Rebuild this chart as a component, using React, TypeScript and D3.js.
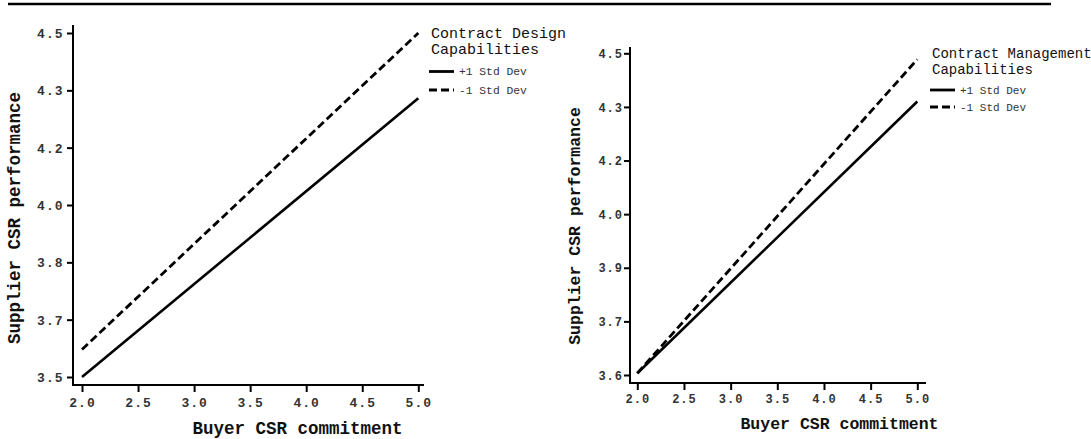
import React, { useEffect, useRef } from 'react';
import * as d3 from 'd3';

// buyer CSR commitment (x) at the two ends of each simple-slope line
const buyerCommitment = [2.0, 5.0];
const xTicks = [2.0, 2.5, 3.0, 3.5, 4.0, 4.5, 5.0];

// Contract Design Capabilities panel
const designHigh = [3.5, 4.31];
const designLow = [3.58, 4.5];
const designYTicks = [3.5, 3.6667, 3.8333, 4.0, 4.1667, 4.3333, 4.5];
const designYLabels = ['3.5', '3.7', '3.8', '4.0', '4.2', '4.3', '4.5'];

// Contract Management Capabilities panel
const mgmtHigh = [3.605, 4.365];
const mgmtLow = [3.605, 4.483];
const mgmtYTicks = [3.6, 3.75, 3.9, 4.05, 4.2, 4.35, 4.5];
const mgmtYLabels = ['3.6', '3.7', '3.9', '4.0', '4.2', '4.3', '4.5'];

const legendLabels = ['+1 Std Dev', '-1 Std Dev'];
const FONT = '"Courier New", Courier, "Nimbus Mono PS", "Liberation Mono", monospace';

const panels = [
  {
    title: ['Contract Design', 'Capabilities'],
    high: designHigh, low: designLow,
    yTicks: designYTicks, yLabels: designYLabels,
    yDomain: [3.5, 4.5], xRange: [82, 418.3], yRange: [377, 33],
    axisX: 73, axisTop: 25, axisBottom: 385, axisRight: 424,
    tickFs: 13, titleFs: 17.5, legendFs: 15,
    yLabelEnd: 63.5, xLabelY: 402,
    yTitle: [14, 218], xTitle: [297.5, 428],
    legend: [431, 33], legendRows: [38.5, 57], legendTextFs: 11.3,
  },
  {
    title: ['Contract Management', 'Capabilities'],
    high: mgmtHigh, low: mgmtLow,
    yTicks: mgmtYTicks, yLabels: mgmtYLabels,
    yDomain: [3.6, 4.5], xRange: [637.3, 917.3], yRange: [375, 53.3],
    axisX: 630, axisTop: 47, axisBottom: 383, axisRight: 926,
    tickFs: 12, titleFs: 16.5, legendFs: 14,
    yLabelEnd: 623, xLabelY: 398.5,
    yTitle: [574.5, 226], xTitle: [839.5, 423],
    legend: [932, 53], legendRows: [37, 54], legendTextFs: 11,
  },
];

export default function App() {
  const ref = useRef<SVGSVGElement>(null);

  useEffect(() => {
    document.body.style.margin = '0';
    const svg = d3.select(ref.current);
    svg.selectAll('*').remove();

    // rule across the top
    svg.append('line')
      .attr('x1', 8).attr('x2', 1051).attr('y1', 4).attr('y2', 4)
      .attr('stroke', '#000').attr('stroke-width', 2.5);

    panels.forEach(p => {
      const g = svg.append('g');
      const x = d3.scaleLinear().domain([2, 5]).range(p.xRange);
      const y = d3.scaleLinear().domain(p.yDomain).range(p.yRange);

      // axis lines
      g.append('path')
        .attr('d', `M${p.axisX},${p.axisTop}V${p.axisBottom}H${p.axisRight}`)
        .attr('fill', 'none').attr('stroke', '#000').attr('stroke-width', 2);

      const xAxis = g.append('g')
        .attr('transform', `translate(0,${p.axisBottom})`)
        .call(d3.axisBottom(x).tickValues(xTicks).tickSize(7).tickFormat(d3.format('.1f')));
      xAxis.select('.domain').remove();
      xAxis.selectAll('line').attr('stroke-width', 2);
      xAxis.selectAll('text')
        .attr('y', p.xLabelY - p.axisBottom).attr('dy', '0.35em')
        .attr('font-family', FONT).attr('font-weight', 'bold')
        .attr('font-size', p.tickFs).attr('letter-spacing', 1).attr('fill', '#333');

      const yAxis = g.append('g')
        .attr('transform', `translate(${p.axisX},0)`)
        .call(d3.axisLeft(y).tickValues(p.yTicks).tickSize(6)
          .tickFormat((_, i) => p.yLabels[i]));
      yAxis.select('.domain').remove();
      yAxis.selectAll('line').attr('stroke-width', 2);
      yAxis.selectAll('text')
        .attr('x', p.yLabelEnd - p.axisX).attr('dy', '0.35em')
        .attr('font-family', FONT).attr('font-weight', 'bold')
        .attr('font-size', p.tickFs).attr('letter-spacing', 1).attr('fill', '#333');

      // axis titles
      g.append('text')
        .attr('x', p.xTitle[0]).attr('y', p.xTitle[1]).attr('dy', '0.35em')
        .attr('text-anchor', 'middle').attr('font-family', FONT)
        .attr('font-weight', 'bold').attr('font-size', p.titleFs).attr('fill', '#111')
        .text('Buyer CSR commitment');
      g.append('text')
        .attr('transform', `translate(${p.yTitle[0]},${p.yTitle[1]}) rotate(-90)`)
        .attr('dy', '0.35em')
        .attr('text-anchor', 'middle').attr('font-family', FONT)
        .attr('font-weight', 'bold').attr('font-size', p.titleFs).attr('fill', '#111')
        .text('Supplier CSR performance');

      // simple slopes
      const line = d3.line<number>()
        .x((_, i) => x(buyerCommitment[i]))
        .y(d => y(d));
      g.append('path').attr('d', line(p.high))
        .attr('fill', 'none').attr('stroke', '#000').attr('stroke-width', 2.6);
      g.append('path').attr('d', line(p.low))
        .attr('fill', 'none').attr('stroke', '#000').attr('stroke-width', 2.8)
        .attr('stroke-dasharray', '8,4');

      // legend
      const [lx, ly] = p.legend;
      p.title.forEach((t, i) => {
        g.append('text')
          .attr('x', lx).attr('y', ly + i * 16).attr('dy', '0.35em')
          .attr('font-family', FONT).attr('font-size', p.legendFs).attr('fill', '#111')
          .text(t);
      });
      legendLabels.forEach((t, i) => {
        const yy = ly + p.legendRows[i];
        g.append('line')
          .attr('x1', lx - 2).attr('x2', lx + 23).attr('y1', yy).attr('y2', yy)
          .attr('stroke', '#000').attr('stroke-width', 2.8)
          .attr('stroke-dasharray', i === 1 ? '8,4' : null);
        g.append('text')
          .attr('x', lx + 28).attr('y', yy).attr('dy', '0.35em')
          .attr('font-family', FONT).attr('font-size', p.legendTextFs).attr('fill', '#333')
          .text(t);
      });
    });
  }, []);

  return <svg ref={ref} width={1091} height={439} style={{ display: 'block', background: '#fff' }} />;
}
